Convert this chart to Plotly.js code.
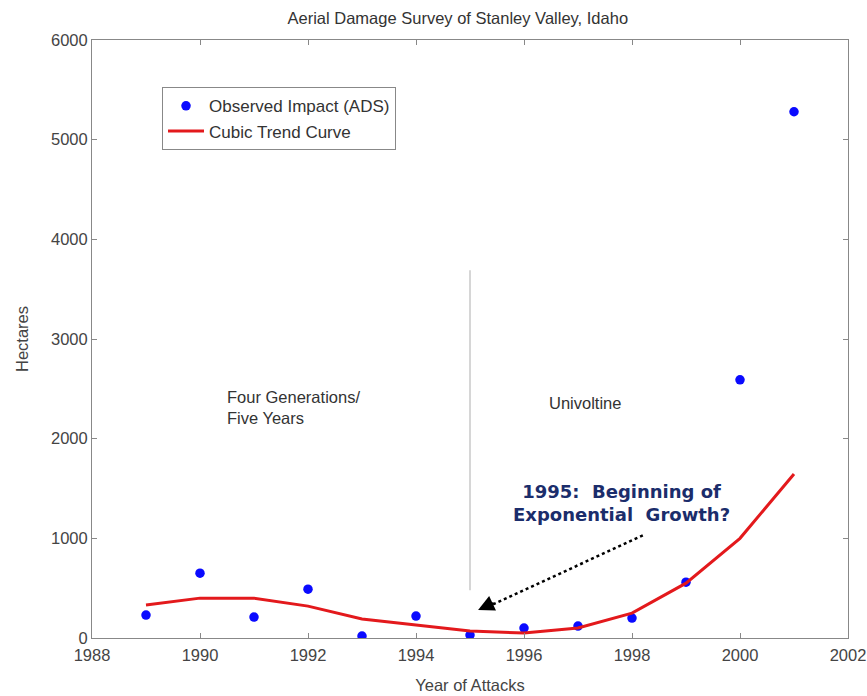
<!DOCTYPE html>
<html><head><meta charset="utf-8">
<script src="https://cdn.plot.ly/plotly-3.0.1.min.js"></script>
<style>body{margin:0;background:#fff}#c{width:867px;height:696px}</style>
</head><body><div id="c"></div>
<script>
const years = [1989,1990,1991,1992,1993,1994,1995,1996,1997,1998,1999,2000,2001];
const observed = [230,650,210,490,20,220,30,100,120,200,560,2590,5280];
const cubicTrend = [330,400,400,320,190,130,70,50,100,250,550,1000,1645];
const dividerYear = [1995,1995];
const dividerRange = [480,3690];
const arrowTail = {x:1998.2, y:1030};
const arrowHead = {x:1995.15, y:280};

const f = 'Liberation Sans, Arial, sans-serif';
const traces = [
  {x: years, y: observed, mode:'markers', name:'Observed Impact (ADS)',
   marker:{color:'#0a0aff', size:9.5, symbol:'circle'}},
  {x: years, y: cubicTrend, mode:'lines', name:'Cubic Trend Curve',
   line:{color:'#e3191c', width:3}},
  {x: dividerYear, y: dividerRange, mode:'lines', showlegend:false,
   line:{color:'#c8c8c8', width:1.5}, hoverinfo:'skip'}
];
const axisCommon = {showline:true, mirror:'ticks', linecolor:'#888', linewidth:1,
  ticks:'inside', ticklen:5, tickcolor:'#888', showgrid:false, zeroline:false,
  tickfont:{family:f, size:16.5, color:'#444'}};
const layout = {
  width:867, height:696,
  margin:{l:92, r:19, t:40, b:58},
  paper_bgcolor:'#fff', plot_bgcolor:'#fff',
  title:{text:'Aerial Damage Survey of Stanley Valley, Idaho', font:{family:f, size:16.5, color:'#333'}, x:0.528, xanchor:'center', y:0.974, yanchor:'middle'},
  xaxis:Object.assign({}, axisCommon, {range:[1988,2002], dtick:2, tick0:1988, ticklabelstandoff:2,
    title:{text:'Year of Attacks', font:{family:f, size:16.5, color:'#444'}, standoff:16}}),
  yaxis:Object.assign({}, axisCommon, {range:[0,6000], dtick:1000,
    title:{text:'Hectares', font:{family:f, size:16.5, color:'#444'}, standoff:18}}),
  showlegend:true,
  legend:{x:0.0926, y:0.921, xanchor:'left', yanchor:'top', bordercolor:'#888', borderwidth:1,
    bgcolor:'#fff', font:{family:f, size:17, color:'#333'}, tracegroupgap:0, itemwidth:36},
  shapes:[
    {type:'line', xref:'x', yref:'y', x0:arrowTail.x, y0:arrowTail.y, x1:arrowHead.x+0.25, y1:arrowHead.y+50,
     line:{color:'#000', width:2.5, dash:'dot'}}
  ],
  annotations:[
    {x:arrowHead.x, y:arrowHead.y, xref:'x', yref:'y', ax:17, ay:-8, axref:'pixel', ayref:'pixel',
     showarrow:true, arrowhead:2, arrowsize:1.6, arrowwidth:2, arrowcolor:'#000', text:''},
    {x:1997.8, y:1350, xref:'x', yref:'y', showarrow:false, align:'center',
     text:'<b>1995:  Beginning of<br>Exponential  Growth?</b>',
     font:{family:'DejaVu Sans, Verdana, sans-serif', size:18, color:'#1b2d6b'}},
    {x:1990.46, y:2310, xref:'x', yref:'y', showarrow:false, align:'left', xanchor:'left',
     text:'Four Generations/<br>Five Years', font:{family:f, size:16.5, color:'#333'}},
    {x:1997.13, y:2360, xref:'x', yref:'y', showarrow:false, align:'center',
     text:'Univoltine', font:{family:f, size:16.5, color:'#333'}}
  ]
};
Plotly.newPlot('c', traces, layout, {displayModeBar:false, staticPlot:true});
</script></body></html>
